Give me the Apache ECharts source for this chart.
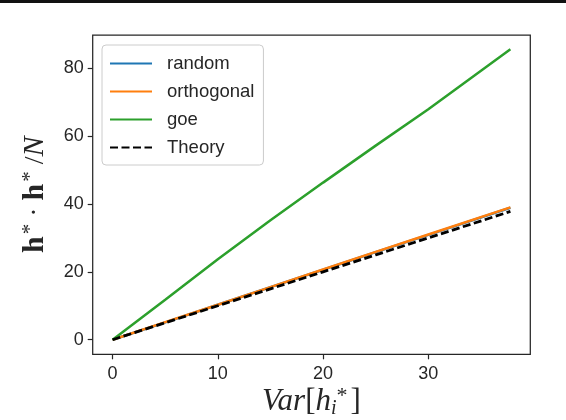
<!DOCTYPE html>
<html>
<head>
<meta charset="utf-8">
<script src="https://cdn.jsdelivr.net/npm/echarts@6/dist/echarts.min.js"></script>
<style>
  html, body { margin: 0; padding: 0; background: #fff; }
  #main { width: 566px; height: 420px; }
</style>
</head>
<body>
<div id="main"></div>
<script>
// values
var varX = [0, 5, 10, 15, 20, 25, 30, 37.8];
var randomY = [0, 5.1, 10.3, 15.5, 20.6, 25.8, 30.9, 38.9];
var orthogonalY = [0, 5.2, 10.3, 15.5, 20.7, 25.9, 31.0, 39.0];
var goeY = [0, 11.8, 23.7, 35.2, 46.3, 57.2, 67.9, 85.6];
var theoryY = [0, 5, 10, 15, 20, 25, 30, 37.8];
var xTicks = [0, 10, 20, 30];
var yTicks = [0, 20, 40, 60, 80];

var pairs = function (xs, ys) {
  return xs.map(function (x, i) { return [x, ys[i]]; });
};

var textColor = "#262626";
var tickFont = "'Liberation Sans', Arial, sans-serif";
var mathFont = "'Liberation Serif', 'DejaVu Serif', serif";

var lineSeries = function (name, ys, color, dashed) {
  return {
    name: name,
    type: "line",
    symbol: "none",
    showSymbol: false,
    animation: false,
    data: pairs(varX, ys),
    lineStyle: {
      color: color,
      width: dashed ? 2.8 : 2.5,
      type: dashed ? [8, 3.5] : "solid"
    },
    itemStyle: { color: color }
  };
};

var myChart = echarts.init(document.getElementById("main"));
var option = {
  backgroundColor: "#fff",
  animation: false,
  graphic: [
    {
      type: "rect",
      shape: { x: 0, y: 0, width: 566, height: 3 },
      style: { fill: "#111" }
    }
  ],
  grid: {
    left: 92.7,
    right: 35.7,
    top: 35,
    bottom: 65.7,
    containLabel: false,
    outerBoundsMode: "none",
    show: true,
    borderColor: textColor,
    borderWidth: 1.25
  },
  legend: {
    left: 102,
    top: 45,
    orient: "vertical",
    backgroundColor: "#fff",
    borderColor: "#cccccc",
    borderWidth: 1,
    borderRadius: 4,
    padding: [9, 9, 8, 7],
    itemWidth: 42,
    itemHeight: 14,
    itemGap: 9,
    itemStyle: { opacity: 0 },
    textStyle: {
      fontFamily: tickFont,
      fontSize: 18.5,
      color: textColor,
      padding: [0, 0, 0, 10]
    },
    data: ["random", "orthogonal", "goe", "Theory"]
  },
  xAxis: {
    type: "value",
    min: -1.89,
    max: 39.69,
    splitLine: { show: false },
    axisLine: { show: false, onZero: false },
    axisTick: {
      show: true,
      length: 5,
      customValues: xTicks,
      lineStyle: { color: textColor, width: 1.2 }
    },
    axisLabel: {
      customValues: xTicks,
      margin: 11,
      fontFamily: tickFont,
      fontSize: 18,
      color: textColor
    },
    name: "{i|Var}{n|[}{i|h}{sub|i}{sup|*}{n|]}",
    nameLocation: "middle",
    nameGap: 31,
    nameMoveOverlap: false,
    nameTextStyle: {
      rich: {
        i: { fontFamily: mathFont, fontStyle: "italic", fontSize: 31, color: textColor },
        n: { fontFamily: mathFont, fontSize: 31, color: textColor },
        sub: { fontFamily: mathFont, fontStyle: "italic", fontSize: 20, color: textColor, verticalAlign: "bottom", padding: [13, 0, 0, 0] },
        sup: { fontFamily: mathFont, fontSize: 22, color: textColor, verticalAlign: "top", padding: [0, 3, 11, 0] }
      }
    }
  },
  yAxis: {
    type: "value",
    min: -4.3,
    max: 89.8,
    splitLine: { show: false },
    axisLine: { show: false, onZero: false },
    axisTick: {
      show: true,
      length: 5,
      customValues: yTicks,
      lineStyle: { color: textColor, width: 1.2 }
    },
    axisLabel: {
      customValues: yTicks,
      margin: 9,
      fontFamily: tickFont,
      fontSize: 18,
      color: textColor
    },
    name: "{b|h}{sup|*}{n| · }{b|h}{sup|*}{n| /}{i|N}",
    nameLocation: "middle",
    nameRotate: 90,
    nameGap: 42,
    nameMoveOverlap: false,
    nameTextStyle: {
      rich: {
        b: { fontFamily: mathFont, fontWeight: "bold", fontSize: 30, color: textColor },
        i: { fontFamily: mathFont, fontStyle: "italic", fontSize: 30, color: textColor },
        n: { fontFamily: mathFont, fontSize: 28, color: textColor },
        sup: { fontFamily: mathFont, fontSize: 21, color: textColor, verticalAlign: "top", padding: [0, 0, 10, 2] }
      }
    }
  },
  series: [
    lineSeries("random", randomY, "#1f77b4", false),
    lineSeries("orthogonal", orthogonalY, "#ff7f0e", false),
    lineSeries("goe", goeY, "#2ca02c", false),
    lineSeries("Theory", theoryY, "#000000", true)
  ]
};
myChart.setOption(option);
</script>
</body>
</html>
